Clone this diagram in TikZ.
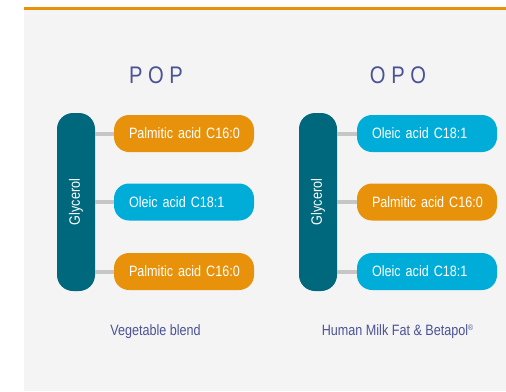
\documentclass[tikz,border=0pt]{standalone}
\usepackage{fontspec}
\setmainfont{Liberation Sans}[FakeStretch=0.84]
\usepackage{tikz}
\usetikzlibrary{positioning, calc}

\definecolor{fatorange}{HTML}{E8920C}
\definecolor{fatcyan}{HTML}{00ADD9}
\definecolor{glyteal}{HTML}{00687D}
\definecolor{panelgray}{HTML}{F4F4F4}
\definecolor{linkgray}{HTML}{C6C6C6}
\definecolor{titlenavy}{HTML}{4B5396}

\begin{document}
\begin{tikzpicture}[
    x=1pt, y=-1pt,
    glybar/.style={rectangle, fill=glyteal, rounded corners=16pt,
                minimum width=38pt, minimum height=178pt, inner sep=0pt,
                text=white, font=\fontsize{15}{15}\selectfont},
    acid/.style={rectangle, rounded corners=15pt, text width=110pt,
                inner xsep=15pt, inner ysep=0pt, minimum height=37pt,
                align=left, text=white, font=\fontsize{15}{15}\selectfont},
    palm/.style={acid, fill=fatorange},
    olei/.style={acid, fill=fatcyan},
    link/.style={draw=linkgray, line width=4pt},
    title/.style={text=titlenavy, font=\fontsize{24}{24}\selectfont},
    caption/.style={text=titlenavy, font=\fontsize{15}{15}\selectfont}
]

    % Frame
    \useasboundingbox (0,0) rectangle (506,391);
    \fill[white] (0,0) rectangle (506,391);
    \fill[panelgray] (24,9) rectangle (506,391);
    \fill[fatorange] (24,7) rectangle (506,9.5);

    % POP
    \node[title] (popT) at (156,75) {P O P};
    \node[glybar] (glyL) at (76,202) {\rotatebox{90}{Glycerol}};
    \node[palm] (popA) at (184,133.5) {\mbox{Palmitic acid C16:0}};
    \node[olei] (popB) at (184,202) {\mbox{Oleic acid C18:1}};
    \node[palm] (popC) at (184,271.5) {\mbox{Palmitic acid C16:0}};
    \node[caption] (popN) at (155.5,332) {Vegetable blend};

    % OPO
    \node[title] (opoT) at (398,75) {O P O};
    \node[glybar] (glyR) at (318,202) {\rotatebox{90}{Glycerol}};
    \node[olei] (opoA) at (427,133.5) {\mbox{Oleic acid C18:1}};
    \node[palm] (opoB) at (427,202) {\mbox{Palmitic acid C16:0}};
    \node[olei] (opoC) at (427,271.5) {\mbox{Oleic acid C18:1}};
    \node[caption] (opoN) at (397.5,332) {Human Milk Fat \& Betapol\raisebox{5pt}{\fontsize{8}{8}\selectfont\textregistered}};

    % Links to glycerol
    \draw[link] (glyL.east |- popA.west) -- (popA.west);
    \draw[link] (glyL.east |- popB.west) -- (popB.west);
    \draw[link] (glyL.east |- popC.west) -- (popC.west);
    \draw[link] (glyR.east |- opoA.west) -- (opoA.west);
    \draw[link] (glyR.east |- opoB.west) -- (opoB.west);
    \draw[link] (glyR.east |- opoC.west) -- (opoC.west);

\end{tikzpicture}
\end{document}
